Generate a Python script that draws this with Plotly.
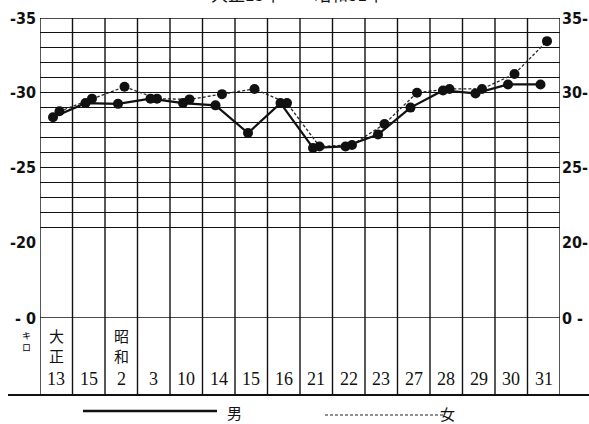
import plotly.graph_objects as go

# ---- data ----
col_labels = ["13", "15", "2", "3", "10", "14", "15", "16",
              "21", "22", "23", "27", "28", "29", "30", "31"]
era_labels = {0: "大正", 2: "昭和"}
male = [28.35, 29.3, 29.25, 29.6, 29.3, 29.15, 27.3, 29.3,
        26.3, 26.4, 27.2, 29.0, 30.15, 29.95, 30.55, 30.55]
female = [28.75, 29.6, 30.4, 29.6, 29.55, 29.9, 30.25, 29.3,
          26.4, 26.5, 27.9, 30.0, 30.25, 30.25, 31.25, 33.45]
upper_ticks = [20, 25, 30, 35]
title_parts = ["大正13年", "昭和31年"]
legend_names = ["男", "女"]

W, H = 589, 424
L, R, T, B = 40, 29, 18, 29
plot_h = H - T - B
pw = W - L - R
row_top = (395 - 318) / plot_h      # top of label row (value 0 line)
mid_top = (395 - 242) / plot_h      # value 20 line


def px_x(p):
    return (p - L) / pw


def px_y(p):
    return (H - B - p) / plot_h


n = len(col_labels)
xm = [i + 0.5 - 0.1 for i in range(n)]
xf = [i + 0.5 + 0.1 for i in range(n)]

fig = go.Figure()
fig.add_trace(go.Scatter(
    x=xf, y=female, mode="lines+markers", name=legend_names[1],
    line=dict(color="#2a2a2a", width=1.3, dash="3px,2px"),
    marker=dict(color="#111", size=10), yaxis="y", xaxis="x"))
fig.add_trace(go.Scatter(
    x=xm, y=male, mode="lines+markers", name=legend_names[0],
    line=dict(color="#111", width=2.2),
    marker=dict(color="#111", size=10), yaxis="y", xaxis="x"))
# invisible traces to activate right axes
fig.add_trace(go.Scatter(x=[None], y=[None], yaxis="y3", showlegend=False))
fig.add_trace(go.Scatter(x=[None], y=[None], yaxis="y4", showlegend=False))

tick_font = dict(family="Liberation Sans Narrow, DejaVu Sans Condensed, Liberation Sans",
                 size=16, color="#111", weight="bold")

fig.update_layout(
    width=W, height=H,
    margin=dict(l=L, r=R, t=T, b=B, autoexpand=False),
    paper_bgcolor="white", plot_bgcolor="white",
    showlegend=False,
    xaxis=dict(range=[0, n], showgrid=False, showticklabels=False,
               zeroline=False, showline=False, anchor="y2", automargin=False),
    yaxis=dict(domain=[mid_top, 1], range=[20, 35],
               showgrid=True, gridcolor="#111", gridwidth=1.3,
               tickmode="array", tickvals=upper_ticks,
               ticktext=["-" + str(v) for v in upper_ticks],
               tickfont=tick_font, ticks="", zeroline=False, automargin=False,
               ticklabelstandoff=3,
               minor=dict(dtick=1, tick0=20, showgrid=True, gridcolor="#111",
                          gridwidth=1.3)),
    yaxis2=dict(domain=[row_top, mid_top], range=[0, 20],
                tickmode="array", tickvals=[0], ticktext=["- 0"],
                tickfont=tick_font, showgrid=False, zeroline=False,
                automargin=False, ticklabelstandoff=3),
    yaxis3=dict(overlaying="y", side="right", range=[20, 35],
                tickmode="array", tickvals=upper_ticks,
                ticktext=[str(v) + "-" for v in upper_ticks],
                tickfont=tick_font, showgrid=False, zeroline=False,
                automargin=False, ticklabelstandoff=1),
    yaxis4=dict(overlaying="y2", side="right", range=[0, 20],
                tickmode="array", tickvals=[0], ticktext=["0 -"],
                tickfont=tick_font, showgrid=False, zeroline=False,
                automargin=False, ticklabelstandoff=1),
)

shapes = []
for k in range(n + 1):
    shapes.append(dict(type="line", xref="x", yref="paper", x0=k, x1=k,
                       y0=0, y1=1, line=dict(color="#111", width=1.4)))
shapes.append(dict(type="line", xref="paper", yref="y", x0=0, x1=1, y0=35, y1=35,
                   line=dict(color="#111", width=1.4)))
shapes.append(dict(type="line", xref="paper", yref="y2", x0=0, x1=1, y0=0, y1=0,
                   line=dict(color="#111", width=1.6)))
shapes.append(dict(type="line", xref="paper", yref="paper",
                   x0=px_x(8), x1=px_x(W), y0=0, y1=0,
                   line=dict(color="#111", width=1.8)))
shapes.append(dict(type="line", xref="paper", yref="paper",
                   x0=px_x(83), x1=px_x(217), y0=px_y(411), y1=px_y(411),
                   line=dict(color="#111", width=2.6)))
shapes.append(dict(type="line", xref="paper", yref="paper",
                   x0=px_x(325), x1=px_x(443), y0=px_y(415), y1=px_y(415),
                   line=dict(color="#222", width=1.2, dash="3px,2px")))
fig.update_layout(shapes=shapes)

ann = []
num_font = dict(family="Liberation Serif", size=18, color="#111")
cjk_font = dict(family="Noto Sans CJK JP", size=15, color="#111")
for i, lab in enumerate(col_labels):
    ann.append(dict(x=i + 0.5, xref="x", y=px_y(379), yref="paper", text=lab,
                    showarrow=False, font=num_font, yanchor="middle"))
for i, era in era_labels.items():
    ann.append(dict(x=i + 0.5, xref="x", y=px_y(345), yref="paper",
                    text="<br>".join(list(era)), showarrow=False,
                    font=cjk_font, yanchor="middle"))
ann.append(dict(x=px_x(20), xref="paper", y=px_y(341), yref="paper",
                text="キ<br>ロ", showarrow=False,
                font=dict(family="Noto Sans CJK JP", size=9, color="#000000"),
                yanchor="middle"))
ann.append(dict(x=px_x(234), xref="paper", y=px_y(412), yref="paper",
                text=legend_names[0], showarrow=False, font=cjk_font, yanchor="middle"))
ann.append(dict(x=px_x(457), xref="paper", y=px_y(414), yref="paper",
                text=legend_names[1], showarrow=False, font=cjk_font, yanchor="middle"))
for part, xc in zip(title_parts, [209, 349]):
    ann.append(dict(x=px_x(xc), xref="paper", y=px_y(-6), yref="paper",
                    text=part, showarrow=False,
                    font=dict(family="Noto Sans CJK JP", size=17, color="#111"),
                    yanchor="middle"))
fig.update_layout(annotations=ann)

fig.write_html("out.html", config={"displayModeBar": False},
               post_script="document.body.style.margin='0';document.body.style.overflow='hidden';")
